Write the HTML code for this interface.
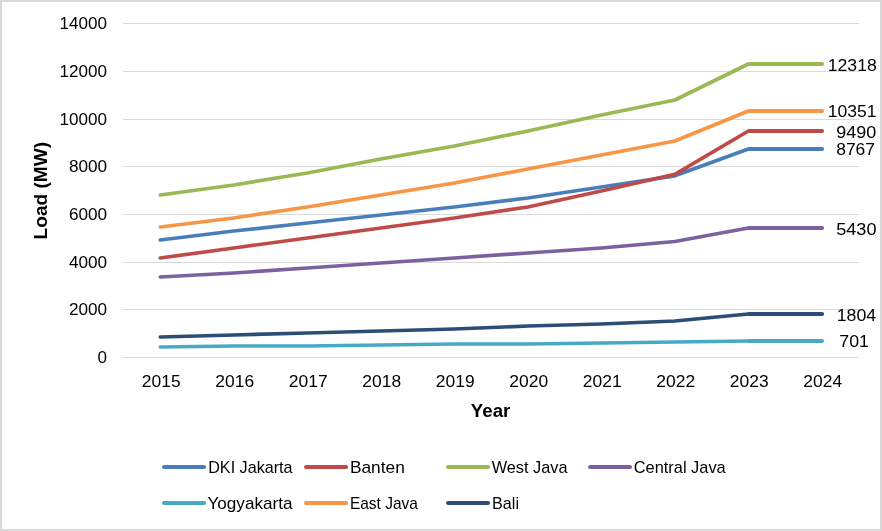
<!DOCTYPE html>
<html lang="en">
<head>
<meta charset="utf-8">
<title>Load (MW) by Year</title>
<style>
html,body{margin:0;padding:0;background:#fff;}
body{width:882px;height:531px;overflow:hidden;}
svg{display:block;}
text{font-family:"Liberation Sans",sans-serif;fill:#000;}
.b{font-weight:bold;}
</style>
</head>
<body>
<svg role="img" aria-label="Load (MW) by Year line chart" width="882" height="531" viewBox="0 0 882 531">
<rect x="0" y="0" width="882" height="531" fill="#fff"/>
<rect x="1" y="1" width="880" height="529" fill="none" stroke="#D9D9D9" stroke-width="2"/>
<g fill="#D9D9D9">
<rect x="123" y="23" width="736" height="1"/>
<rect x="123" y="71" width="736" height="1"/>
<rect x="123" y="119" width="736" height="1"/>
<rect x="123" y="166" width="736" height="1"/>
<rect x="123" y="214" width="736" height="1"/>
<rect x="123" y="262" width="736" height="1"/>
<rect x="123" y="309" width="736" height="1"/>
<rect x="123" y="357" width="736" height="1"/>
</g>
<g font-size="17" text-anchor="end">
<text x="107.1" y="28.8" textLength="47.5" lengthAdjust="spacingAndGlyphs">14000</text>
<text x="107.1" y="76.8" textLength="47.5" lengthAdjust="spacingAndGlyphs">12000</text>
<text x="107.1" y="124.8" textLength="47.5" lengthAdjust="spacingAndGlyphs">10000</text>
<text x="107.1" y="171.8" textLength="38.2" lengthAdjust="spacingAndGlyphs">8000</text>
<text x="107.1" y="219.8" textLength="38.2" lengthAdjust="spacingAndGlyphs">6000</text>
<text x="107.1" y="267.8" textLength="38.2" lengthAdjust="spacingAndGlyphs">4000</text>
<text x="107.1" y="314.8" textLength="38.2" lengthAdjust="spacingAndGlyphs">2000</text>
<text x="107.1" y="362.8" textLength="9.5" lengthAdjust="spacingAndGlyphs">0</text>
</g>
<g font-size="17" text-anchor="middle">
<text x="161.25" y="387.3" textLength="38.8" lengthAdjust="spacingAndGlyphs">2015</text>
<text x="234.75" y="387.3" textLength="38.8" lengthAdjust="spacingAndGlyphs">2016</text>
<text x="308.25" y="387.3" textLength="38.8" lengthAdjust="spacingAndGlyphs">2017</text>
<text x="381.75" y="387.3" textLength="38.8" lengthAdjust="spacingAndGlyphs">2018</text>
<text x="455.25" y="387.3" textLength="38.8" lengthAdjust="spacingAndGlyphs">2019</text>
<text x="528.75" y="387.3" textLength="38.8" lengthAdjust="spacingAndGlyphs">2020</text>
<text x="602.25" y="387.3" textLength="38.8" lengthAdjust="spacingAndGlyphs">2021</text>
<text x="675.75" y="387.3" textLength="38.8" lengthAdjust="spacingAndGlyphs">2022</text>
<text x="749.25" y="387.3" textLength="38.8" lengthAdjust="spacingAndGlyphs">2023</text>
<text x="822.75" y="387.3" textLength="38.8" lengthAdjust="spacingAndGlyphs">2024</text>
</g>
<text class="b" font-size="17.5" text-anchor="middle" x="490.6" y="417.4" textLength="39.5" lengthAdjust="spacingAndGlyphs">Year</text>
<text class="b" font-size="17.5" text-anchor="middle" transform="translate(46.8 190.7) rotate(-90)" textLength="97.4" lengthAdjust="spacingAndGlyphs">Load (MW)</text>
<g fill="none" stroke-width="3.7" stroke-linecap="round" stroke-linejoin="round">
<polyline stroke="#4A7EBB" points="160.30,240.00 233.81,231.00 307.32,223.00 380.83,215.00 454.34,207.00 527.85,198.00 601.36,187.00 674.87,175.80 748.38,149.00 821.89,149.00"/>
<polyline stroke="#BE4B48" points="160.30,258.00 233.81,248.00 307.32,238.00 380.83,228.00 454.34,218.00 527.85,207.00 601.36,191.00 674.87,174.30 748.38,131.00 821.89,131.00"/>
<polyline stroke="#98B954" points="160.30,195.00 233.81,185.00 307.32,173.00 380.83,159.00 454.34,146.00 527.85,131.00 601.36,115.00 674.87,100.00 748.38,64.00 821.89,64.00"/>
<polyline stroke="#7D60A0" points="160.30,277.00 233.81,273.00 307.32,268.00 380.83,263.00 454.34,258.00 527.85,253.00 601.36,248.00 674.87,241.50 748.38,228.00 821.89,228.00"/>
<polyline stroke="#46AAC5" points="160.30,347.00 233.81,346.00 307.32,346.00 380.83,345.00 454.34,344.00 527.85,344.00 601.36,343.00 674.87,342.00 748.38,341.00 821.89,341.00"/>
<polyline stroke="#F79646" points="160.30,227.00 233.81,218.00 307.32,207.00 380.83,195.00 454.34,183.00 527.85,169.00 601.36,155.00 674.87,141.00 748.38,111.00 821.89,111.00"/>
<polyline stroke="#2C4D75" points="160.30,337.00 233.81,335.00 307.32,333.00 380.83,331.00 454.34,329.00 527.85,326.00 601.36,324.00 674.87,321.00 748.38,314.00 821.89,314.00"/>
<line stroke="#4A7EBB" stroke-width="4.2" x1="749.38" y1="149" x2="821.89" y2="149"/>
<line stroke="#BE4B48" stroke-width="4.2" x1="749.38" y1="131" x2="821.89" y2="131"/>
<line stroke="#98B954" stroke-width="4.2" x1="749.38" y1="64" x2="821.89" y2="64"/>
<line stroke="#7D60A0" stroke-width="4.2" x1="749.38" y1="228" x2="821.89" y2="228"/>
<line stroke="#46AAC5" stroke-width="4.2" x1="749.38" y1="341" x2="821.89" y2="341"/>
<line stroke="#F79646" stroke-width="4.2" x1="749.38" y1="111" x2="821.89" y2="111"/>
<line stroke="#2C4D75" stroke-width="4.2" x1="749.38" y1="314" x2="821.89" y2="314"/>
</g>
<g font-size="17" text-anchor="end">
<text x="876.8" y="71.0" textLength="49.1" lengthAdjust="spacingAndGlyphs">12318</text>
<text x="876.5" y="117.3" textLength="48.8" lengthAdjust="spacingAndGlyphs">10351</text>
<text x="876.2" y="138.0" textLength="40.0" lengthAdjust="spacingAndGlyphs">9490</text>
<text x="875.0" y="155.2" textLength="38.8" lengthAdjust="spacingAndGlyphs">8767</text>
<text x="876.5" y="235.1" textLength="40.3" lengthAdjust="spacingAndGlyphs">5430</text>
<text x="876.2" y="321.1" textLength="39.5" lengthAdjust="spacingAndGlyphs">1804</text>
<text x="868.9" y="347.1" textLength="29.6" lengthAdjust="spacingAndGlyphs">701</text>
</g>
<g stroke-width="4.2" stroke-linecap="round">
<line x1="164.1" y1="467.0" x2="204.0" y2="467.0" stroke="#4A7EBB"/>
<line x1="306.1" y1="467.0" x2="346.0" y2="467.0" stroke="#BE4B48"/>
<line x1="448.1" y1="467.0" x2="488.0" y2="467.0" stroke="#98B954"/>
<line x1="590.1" y1="467.0" x2="630.0" y2="467.0" stroke="#7D60A0"/>
<line x1="164.1" y1="503.0" x2="204.0" y2="503.0" stroke="#46AAC5"/>
<line x1="306.1" y1="503.0" x2="346.0" y2="503.0" stroke="#F79646"/>
<line x1="448.1" y1="503.0" x2="488.0" y2="503.0" stroke="#2C4D75"/>
</g>
<g font-size="17">
<text x="208.2" y="473.1" textLength="84.4" lengthAdjust="spacingAndGlyphs">DKI Jakarta</text>
<text x="349.9" y="473.1" textLength="55.0" lengthAdjust="spacingAndGlyphs">Banten</text>
<text x="491.7" y="473.1" textLength="75.9" lengthAdjust="spacingAndGlyphs">West Java</text>
<text x="633.7" y="473.1" textLength="92.0" lengthAdjust="spacingAndGlyphs">Central Java</text>
<text x="207.4" y="509.1" textLength="85.2" lengthAdjust="spacingAndGlyphs">Yogyakarta</text>
<text x="349.9" y="509.1" textLength="68.1" lengthAdjust="spacingAndGlyphs">East Java</text>
<text x="492.1" y="509.1" textLength="26.9" lengthAdjust="spacingAndGlyphs">Bali</text>
</g>
</svg>
</body>
</html>
